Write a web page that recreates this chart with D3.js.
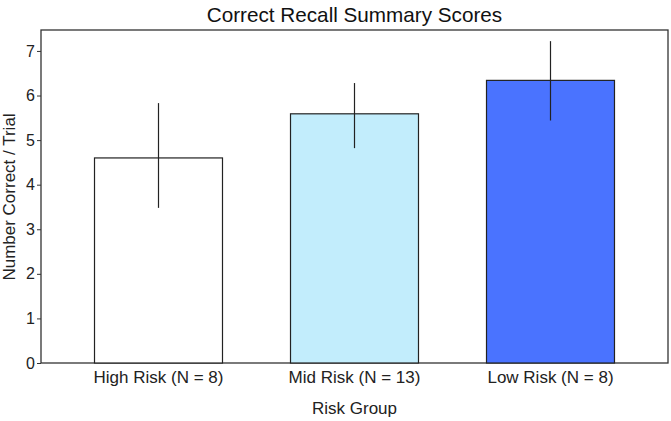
<!DOCTYPE html>
<html><head><meta charset="utf-8">
<script src="https://cdn.jsdelivr.net/npm/d3@7"></script>
<style>body{margin:0;background:#fff;} text{font-family:"Liberation Sans",Arial,sans-serif;}</style>
</head><body><svg id="c" width="671" height="421"></svg>
<script>
const categories = ["High Risk (N = 8)", "Mid Risk (N = 13)", "Low Risk (N = 8)"];
const means = [4.60, 5.59, 6.34];
const errLow = [3.48, 4.82, 5.44];
const errHigh = [5.83, 6.28, 7.22];
const colors = ["#ffffff", "#c2edfc", "#4a73ff"];
const yTicks = [0,1,2,3,4,5,6,7];

const svg = d3.select("#c");
const L = 41, R = 668, T = 30, B = 363;
const FONT = '"Liberation Sans",Arial,sans-serif';
const x = d3.scaleBand().domain(categories).range([L, R]).paddingInner(0.347).paddingOuter(0.273);
const y = d3.scaleLinear().domain([0, 7.47]).range([B, T]);

svg.append("rect").attr("x", L).attr("y", T).attr("width", R - L).attr("height", B - T)
  .attr("fill", "none").attr("stroke", "#333").attr("stroke-width", 1.3);

svg.selectAll(".bar").data(categories).enter().append("rect")
  .attr("x", d => x(d)).attr("width", x.bandwidth())
  .attr("y", (d,i) => y(means[i])).attr("height", (d,i) => B - y(means[i]))
  .attr("fill", (d,i) => colors[i]).attr("stroke", "#222").attr("stroke-width", 1.2);

svg.selectAll(".err").data(categories).enter().append("line")
  .attr("x1", d => x(d) + x.bandwidth()/2).attr("x2", d => x(d) + x.bandwidth()/2)
  .attr("y1", (d,i) => y(errLow[i])).attr("y2", (d,i) => y(errHigh[i]))
  .attr("stroke", "#222").attr("stroke-width", 1.2);

const ya = svg.append("g").attr("transform", `translate(${L},0)`)
  .call(d3.axisLeft(y).tickValues(yTicks).tickSize(4).tickPadding(2));
ya.select(".domain").remove();
ya.selectAll("line").attr("stroke", "#333");
ya.selectAll("text").attr("font-size", 16).attr("fill", "#222").style("font-family", FONT);

const xa = svg.append("g").attr("transform", `translate(0,${B})`)
  .call(d3.axisBottom(x).tickSize(0).tickPadding(8));
xa.select(".domain").remove();
xa.selectAll("text").attr("font-size", 17).attr("fill", "#222").style("font-family", FONT);

svg.append("text").attr("x", (L + R)/2).attr("y", 22).attr("text-anchor", "middle")
  .attr("font-size", 20.7).attr("fill", "#111").text("Correct Recall Summary Scores");
svg.append("text").attr("x", (L + R)/2).attr("y", 414).attr("text-anchor", "middle")
  .attr("font-size", 17).attr("fill", "#222").text("Risk Group");
svg.append("text").attr("transform", `translate(15,197) rotate(-90)`).attr("text-anchor", "middle")
  .attr("font-size", 17).attr("fill", "#222").text("Number Correct / Trial");
</script></body></html>
